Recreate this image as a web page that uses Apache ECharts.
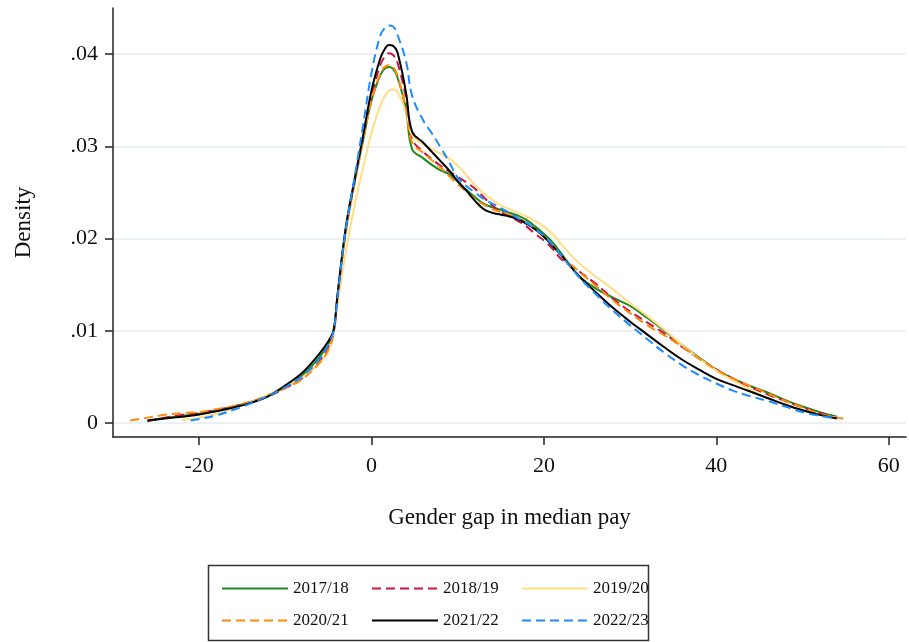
<!DOCTYPE html>
<html>
<head>
<meta charset="utf-8">
<script src="https://cdn.jsdelivr.net/npm/echarts@6/dist/echarts.min.js"></script>
<style>
  html, body { margin: 0; padding: 0; background: #fff; }
  #chart { width: 909px; height: 642px; }
</style>
</head>
<body>
<div id="chart"></div>
<script>
// Gender gap in median pay (percentage points) at which each density is evaluated
const gapValues = [-28, -26, -24, -22, -21, -20, -18, -16, -14, -12, -10, -8, -6, -5, -4.4, -4, -3, -2, -1,
  0, 1, 1.5, 2, 2.5, 3, 4, 4.7, 6, 7, 8, 9, 10, 11, 12, 13, 14, 15, 16, 17, 18, 19, 20, 21, 22,
  24, 26, 28, 30, 32, 34, 36, 38, 40, 42, 44, 46, 48, 50, 52, 54, 55];

// Kernel density estimates per reporting year (null = outside the observed range)
const dens1718 = [null, 0.0003, 0.00055, 0.0008, 0.0009, 0.001, 0.0014, 0.0018, 0.0023, 0.003, 0.0039, 0.0052, 0.0072, 0.0086, 0.01, 0.0133, 0.0208, 0.026, 0.0306,
  0.035, 0.0377, 0.0384, 0.0386, 0.0384, 0.0375, 0.034, 0.0297, 0.0287, 0.028, 0.0274, 0.027, 0.0262, 0.0253, 0.0245, 0.0238, 0.0234, 0.0231, 0.0228, 0.0225, 0.022, 0.0213, 0.0205, 0.0196, 0.0184,
  0.016, 0.0146, 0.0136, 0.0127, 0.0114, 0.01, 0.0085, 0.0071, 0.0058, 0.0048, 0.004, 0.0033, 0.0025, 0.0018, 0.0012, 0.0007, null];

const dens1819 = [null, 0.0002, 0.0006, 0.0009, 0.001, 0.0011, 0.00145, 0.0018, 0.0023, 0.0029, 0.0038, 0.0049, 0.0068, 0.0082, 0.0099, 0.0134, 0.0209, 0.0261, 0.0309,
  0.0355, 0.0388, 0.0397, 0.0401, 0.0399, 0.0391, 0.0352, 0.0308, 0.0294, 0.0286, 0.0279, 0.0273, 0.0267, 0.0261, 0.0254, 0.0245, 0.0236, 0.0229, 0.0224, 0.0219, 0.0213, 0.0205, 0.0198, 0.0189, 0.0178,
  0.0165, 0.0151, 0.0135, 0.0121, 0.0109, 0.0097, 0.0083, 0.007, 0.0058, 0.0048, 0.0039, 0.0031, 0.0024, 0.0017, 0.0011, 0.0006, null];

const dens1920 = [null, null, null, 0.00035, 0.00045, 0.0006, 0.001, 0.0016, 0.0023, 0.0031, 0.004, 0.005, 0.0065, 0.0078, 0.0096, 0.0125, 0.0185, 0.0235, 0.0276,
  0.0315, 0.0344, 0.0354, 0.036, 0.0362, 0.0359, 0.0337, 0.0312, 0.0302, 0.0297, 0.0292, 0.0287, 0.0279, 0.0269, 0.0258, 0.0249, 0.0242, 0.0236, 0.0232, 0.0228, 0.0224, 0.0219, 0.0213, 0.0205, 0.0194,
  0.0174, 0.0159, 0.0145, 0.013, 0.0116, 0.0101, 0.0085, 0.007, 0.0057, 0.0046, 0.0036, 0.0027, 0.002, 0.0014, 0.0009, 0.0006, null];

const dens2021 = [0.0003, 0.0006, 0.0009, 0.0011, 0.00115, 0.0012, 0.0015, 0.00185, 0.00235, 0.003, 0.0038, 0.0048, 0.0066, 0.008, 0.0098, 0.0132, 0.0206, 0.0258, 0.0305,
  0.035, 0.0378, 0.0386, 0.0388, 0.0386, 0.0377, 0.034, 0.0304, 0.0293, 0.0285, 0.0277, 0.0268, 0.0259, 0.0251, 0.0243, 0.0237, 0.0232, 0.0229, 0.0226, 0.0222, 0.0217, 0.021, 0.0202, 0.0193, 0.0182,
  0.0165, 0.0149, 0.0133, 0.0119, 0.0106, 0.0095, 0.0083, 0.007, 0.0058, 0.0048, 0.004, 0.0032, 0.0024, 0.0017, 0.001, 0.0006, 0.0005];

const dens2122 = [null, 0.0003, 0.0005, 0.0007, 0.0008, 0.00095, 0.0013, 0.0017, 0.0022, 0.0029, 0.0041, 0.0055, 0.0076, 0.0089, 0.0101, 0.0135, 0.0212, 0.0263, 0.0311,
  0.0361, 0.0395, 0.0405, 0.041, 0.0409, 0.0402, 0.0358, 0.0316, 0.0304, 0.0294, 0.0284, 0.0274, 0.0262, 0.0252, 0.0241, 0.0232, 0.0228, 0.0226, 0.0224, 0.0221, 0.0216, 0.021, 0.0202, 0.0192, 0.0182,
  0.016, 0.0142, 0.0125, 0.011, 0.0096, 0.0082, 0.0069, 0.0058, 0.0048, 0.0041, 0.0034, 0.0027, 0.002, 0.0014, 0.0009, 0.0005, null];

const dens2223 = [null, null, null, null, 0.0003, 0.00045, 0.00085, 0.00145, 0.00215, 0.00295, 0.0039, 0.0051, 0.007, 0.0086, 0.01, 0.0133, 0.021, 0.0265, 0.0322,
  0.038, 0.042, 0.0428, 0.0431, 0.043, 0.0421, 0.0392, 0.0355, 0.0328, 0.0314, 0.0299, 0.0283, 0.0266, 0.0257, 0.025, 0.0243, 0.0238, 0.0233, 0.0228, 0.0222, 0.0217, 0.021, 0.0203, 0.0193, 0.0182,
  0.0159, 0.014, 0.0122, 0.0106, 0.0091, 0.0076, 0.0063, 0.0052, 0.0043, 0.0035, 0.0029, 0.0024, 0.0018, 0.0012, 0.0008, 0.0005, null];

const yearNames = ['2017/18', '2018/19', '2019/20', '2020/21', '2021/22', '2022/23'];
const xTicks = [-20, 0, 20, 40, 60];
const yTicks = [0, 0.01, 0.02, 0.03, 0.04];

const seriesStyles = [
  { values: dens1718, color: '#1c8a1c', type: 'solid' },
  { values: dens1819, color: '#c8163f', type: [9, 5] },
  { values: dens1920, color: '#ffde85', type: 'solid' },
  { values: dens2021, color: '#ff8a0d', type: [9, 5] },
  { values: dens2122, color: '#000000', type: 'solid' },
  { values: dens2223, color: '#1e8cff', type: [9, 5] }
];

const FONT = '"Liberation Serif", "Times New Roman", serif';

const series = seriesStyles.map((s, i) => ({
  name: yearNames[i],
  type: 'line',
  symbol: 'none',
  smooth: 0.4,
  animation: false,
  color: s.color,
  lineStyle: { color: s.color, width: 2, type: s.type },
  data: gapValues.map((x, j) => [x, s.values[j]]).filter(p => p[1] !== null)
}));

// one legend per entry so the 3 x 2 layout lines up in columns
const legendCols = [216, 366, 516];
const legendRows = [575, 607];
const legends = yearNames.map((name, i) => ({
  data: [name],
  left: legendCols[i % 3],
  top: legendRows[Math.floor(i / 3)],
  itemWidth: 66,
  itemHeight: 14,
  selectedMode: false,
  itemStyle: { opacity: 0 },
  textStyle: { fontFamily: FONT, fontSize: 17, color: '#111' }
}));

const chart = echarts.init(document.getElementById('chart'), null, { renderer: 'canvas' });
chart.setOption({
  backgroundColor: '#ffffff',
  animation: false,
  grid: { left: 113, right: 3, top: 8, bottom: 205, containLabel: false },
  xAxis: {
    type: 'value',
    min: -30,
    max: 62,
    name: 'Gender gap in median pay',
    nameLocation: 'middle',
    nameGap: 69,
    nameTextStyle: { fontFamily: FONT, fontSize: 23, color: '#111' },
    axisLine: { show: true, onZero: false, lineStyle: { color: '#222', width: 1.5 } },
    axisTick: { show: true, length: 8, customValues: xTicks, lineStyle: { color: '#222', width: 1.5 } },
    axisLabel: { customValues: xTicks, margin: 18, fontFamily: FONT, fontSize: 22, color: '#111' },
    splitLine: { show: false }
  },
  yAxis: {
    type: 'value',
    min: -0.0015,
    max: 0.045,
    name: 'Density',
    nameLocation: 'middle',
    nameGap: 78,
    nameTextStyle: { fontFamily: FONT, fontSize: 23, color: '#111' },
    axisLine: { show: true, onZero: false, lineStyle: { color: '#222', width: 1.5 } },
    axisTick: { show: true, length: 8, customValues: yTicks, lineStyle: { color: '#222', width: 1.5 } },
    axisLabel: {
      customValues: yTicks,
      margin: 15,
      fontFamily: FONT,
      fontSize: 22,
      color: '#111',
      formatter: v => (v === 0 ? '0' : v.toFixed(2).replace(/^0\./, '.'))
    },
    splitLine: { show: true, lineStyle: { color: '#e6edf2', width: 1.5 } }
  },
  legend: legends,
  graphic: [{
    type: 'rect',
    shape: { x: 208.5, y: 565.5, width: 440, height: 75 },
    style: { fill: 'none', stroke: '#333', lineWidth: 1.5 },
    silent: true
  }],
  series: series
});
</script>
</body>
</html>
